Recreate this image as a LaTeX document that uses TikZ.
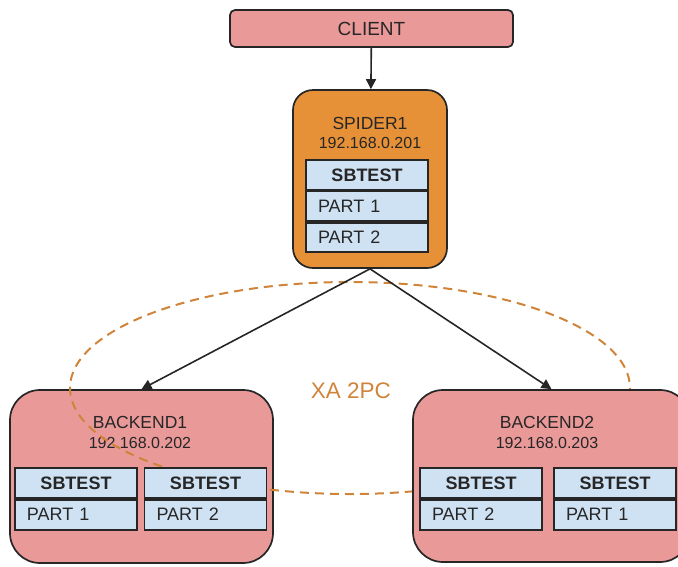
\documentclass[tikz,border=0pt]{standalone}
\usepackage{fontspec}
\setmainfont{Liberation Sans}
\usepackage{xcolor}
\usepackage{tikz}
\usetikzlibrary{positioning,arrows.meta}

\definecolor{clientpink}{HTML}{EA9999}
\definecolor{spiderorange}{HTML}{E69138}
\definecolor{tableblue}{HTML}{CFE2F3}
\definecolor{xaorange}{HTML}{D0843A}
\definecolor{inkgray}{HTML}{262626}

\begin{document}
\begin{tikzpicture}[x=1pt, y=-1pt,
		server/.style={draw=inkgray, line width=1.7pt, rectangle, inner sep=0pt},
		title/.style={text=inkgray, font=\fontsize{17.5}{20}\selectfont},
		addr/.style={text=inkgray, font=\fontsize{16}{19}\selectfont},
		headcell/.style={draw=inkgray, line width=1.7pt, fill=tableblue, rectangle, minimum width=122pt, minimum height=30pt, inner sep=0pt, text=inkgray, font=\bfseries\fontsize{18}{21}\selectfont},
		partcell/.style={draw=inkgray, line width=1.7pt, fill=tableblue, rectangle, text width=98pt, inner xsep=12pt, inner ysep=0pt, minimum height=30pt, align=left, text=inkgray, font=\fontsize{18}{21}\selectfont},
		link/.style={draw=inkgray, line width=1.6pt, -{Triangle[length=10pt, width=10pt]}}]
	\clip (0,0) rectangle (678,566);
	
	% client and spider
	\node[server, fill=clientpink, rounded corners=5pt, minimum width=283pt, minimum height=37pt, title, font=\fontsize{19}{22}\selectfont] (client) at (371.5,28.5) {CLIENT};
	\node[server, fill=spiderorange, rounded corners=20pt, minimum width=154pt, minimum height=178pt] (spider) at (370,179) {};
	\node[title] (spidername) at (370,123) {SPIDER1};
	\node[addr] (spiderip) at (370,143) {192.168.0.201};
	\node[headcell, minimum height=29.5pt] (spidertab) at (367,175) {SBTEST};
	\node[partcell, minimum height=29.5pt, below=0pt of spidertab] (spiderp1) {PART 1};
	\node[partcell, minimum height=29.5pt, below=0pt of spiderp1] (spiderp2) {PART 2};
	
	% backend1
	\node[server, fill=clientpink, rounded corners=30pt, minimum width=263pt, minimum height=173pt] (back1) at (141.5,476.5) {};
	\node[title] (back1name) at (140,422) {BACKEND1};
	\node[addr] (back1ip) at (140,443) {192.168.0.202};
	
	% xa 2pc ring
	\draw[xaorange, line width=2pt, dash pattern=on 9pt off 6pt] (350,388) ellipse [x radius=280, y radius=106];
	
	\node[headcell] (back1taba) at (76,483) {SBTEST};
	\node[partcell, below=0pt of back1taba] (back1pa) {PART 1};
	\node[headcell] (back1tabb) at (205.5,483) {SBTEST};
	\node[partcell, below=0pt of back1tabb] (back1pb) {PART 2};
	
	% backend2
	\node[server, fill=clientpink, rounded corners=30pt, minimum width=277pt, minimum height=172pt] (back2) at (551.5,476) {};
	\node[title] (back2name) at (547,422) {BACKEND2};
	\node[addr] (back2ip) at (547,443) {192.168.0.203};
	\node[headcell] (back2taba) at (481,483) {SBTEST};
	\node[partcell, below=0pt of back2taba] (back2pa) {PART 2};
	\node[headcell] (back2tabb) at (615,483) {SBTEST};
	\node[partcell, below=0pt of back2tabb] (back2pb) {PART 1};
	
	\node[text=xaorange, font=\fontsize{22.5}{26}\selectfont] (xalabel) at (351,391) {XA 2PC};
	
	\draw[link] (client) -- (spider);
	\draw[link] (spider.south) -- (back1.north);
	\draw[link] (spider.south) -- (back2.north);
\end{tikzpicture}
\end{document}
